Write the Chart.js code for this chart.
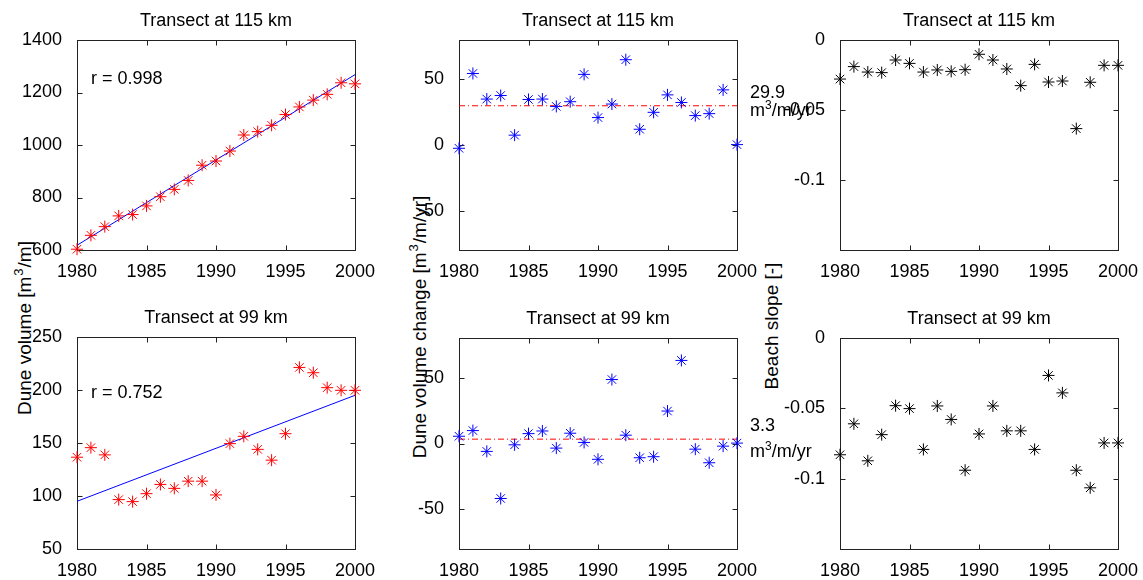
<!DOCTYPE html>
<html>
<head>
<meta charset="utf-8">
<script src="https://cdn.jsdelivr.net/npm/chart.js@4.4.0/dist/chart.umd.min.js"></script>
<style>
  html, body { margin:0; padding:0; background:#fff; overflow:hidden; width:1143px; height:580px; }
  canvas { position:absolute; }
  .ylab { position:absolute; font:19px 'Liberation Sans', Arial, sans-serif; line-height:19px; color:#000;
          white-space:nowrap; transform:translate(-50%,-50%) rotate(-90deg); }
  .sup { font-size:13px; position:relative; top:-8px; padding:0 1px; }
</style>
</head>
<body>
<div class="ylab" style="left:25px; top:328px">Dune volume [m<span class="sup">3</span>/m]</div>
<div class="ylab" style="left:420px; top:327px">Dune volume change [m<span class="sup">3</span>/m/yr]</div>
<div class="ylab" style="left:771px; top:326px">Beach slope [-]</div>
<script>
// ---------------- data ----------------
const years = [1980,1981,1982,1983,1984,1985,1986,1987,1988,1989,1990,1991,1992,1993,1994,1995,1996,1997,1998,1999,2000];
const xTicks = [1980,1985,1990,1995,2000];

const vol115 = [603,656,689,730,735,768,803,831,865,923,939,977,1038,1051,1075,1116,1145,1171,1193,1237,1233];
const trendYears = [1980,2000];
const vol115Trend = [618,1268];
const vol115Ticks = [600,800,1000,1200,1400];
const r115 = 'r = 0.998';

const dv115 = [-2.5,54.5,35,37.7,7.5,34.7,35,29.4,33,53.8,20.9,31.2,65,12,24.9,38.2,32.4,22.4,23.9,42,0.3];
const dv115Mean = 29.9;
const dvTicks = [-50,0,50];

const slope115 = [-0.0279,-0.019,-0.0229,-0.0233,-0.0143,-0.0167,-0.0229,-0.0214,-0.0224,-0.0212,-0.0102,-0.0143,-0.0207,-0.0326,-0.0174,-0.030,-0.0293,-0.0633,-0.0302,-0.0181,-0.0181];
const slopeTicks = [-0.1,-0.05,0];

const vol99 = [136.6,145.6,138.8,96.6,94.7,102.2,110.9,107.2,114,114,101,149.4,156.3,144,133.8,158.8,221.3,216.3,202.2,199.7,199.7];
const vol99Trend = [95,195];
const vol99Ticks = [50,100,150,200,250];
const r99 = 'r = 0.752';

const dv99 = [5.5,9.8,-6,-41.7,-1,7.5,9.5,-3.5,7.8,0.8,-12,48.5,6.3,-10.8,-10,24.6,63,-4.3,-14.6,-2,0.3];
const dv99Mean = 3.3;

const slope99 = [-0.083,-0.061,-0.0873,-0.0687,-0.0481,-0.0502,-0.0792,-0.0483,-0.0579,-0.094,-0.0682,-0.0483,-0.066,-0.066,-0.0792,-0.0266,-0.039,-0.094,-0.1065,-0.0746,-0.0746];

const title115 = 'Transect at 115 km';
const title99 = 'Transect at 99 km';
const unitMain = 'm', unitSup = '3', unitRest = '/m/yr';

// ---------------- helpers ----------------
const FONT = "'Liberation Sans', Arial, sans-serif";
Chart.defaults.font.family = FONT;
Chart.defaults.font.size = 18;
Chart.defaults.color = '#000';

const pts = (xs, ys) => xs.map((x, i) => ({x, y: ys[i]}));

function starSet(ys, color) {
  return { data: pts(years, ys), pointStyle: 'star', pointRadius: 6, pointHoverRadius: 6,
           borderColor: color, backgroundColor: color, pointBorderWidth: 1, borderWidth: 1,
           showLine: false, clip: false };
}
function lineSet(xs, ys, color, dash) {
  return { data: pts(xs, ys), showLine: true, pointRadius: 0, borderColor: color, borderWidth: 1,
           borderDash: dash || [], clip: false, fill: false };
}

function makePlugin(opt) {
  return {
    id: 'matlabLook',
    beforeDatasetsDraw(chart) {
      const {ctx, chartArea: a, scales: {x, y}} = chart;
      ctx.save();
      ctx.strokeStyle = '#222';
      ctx.lineWidth = 1;
      const L = Math.round(a.left) + 0.5, R = Math.round(a.right) + 0.5;
      const T = Math.round(a.top) + 0.5, B = Math.round(a.bottom) + 0.5;
      ctx.strokeRect(L, T, R - L, B - T);
      ctx.beginPath();
      x.ticks.forEach(t => {
        const p = Math.round(x.getPixelForValue(t.value)) + 0.5;
        ctx.moveTo(p, B); ctx.lineTo(p, B - 5);
        ctx.moveTo(p, T); ctx.lineTo(p, T + 5);
      });
      y.ticks.forEach(t => {
        const p = Math.round(y.getPixelForValue(t.value)) + 0.5;
        ctx.moveTo(L, p); ctx.lineTo(L + 5, p);
        ctx.moveTo(R, p); ctx.lineTo(R - 5, p);
      });
      ctx.stroke();
      ctx.restore();
    },
    afterDraw(chart) {
      const {ctx, chartArea: a, scales: {x, y}} = chart;
      ctx.save();
      ctx.fillStyle = '#000';
      ctx.font = '18px ' + FONT;
      ctx.textBaseline = 'alphabetic';
      ctx.textAlign = 'center';
      ctx.fillText(opt.title, (a.left + a.right) / 2, a.top - 14);
      ctx.textAlign = 'left';
      if (opt.r) {
        ctx.fillText(opt.r.text, x.getPixelForValue(opt.r.x), y.getPixelForValue(opt.r.y));
      }
      if (opt.mean !== undefined) {
        const py = y.getPixelForValue(opt.mean);
        const px = a.right + 13;
        ctx.fillText(opt.mean.toFixed(1), px, py + opt.off[0]);
        let cx = px;
        const b2 = py + opt.off[1];
        ctx.fillText(unitMain, cx, b2); cx += ctx.measureText(unitMain).width;
        ctx.font = '12px ' + FONT;
        ctx.fillText(unitSup, cx, b2 - 7); cx += ctx.measureText(unitSup).width;
        ctx.font = '18px ' + FONT;
        ctx.fillText(unitRest, cx, b2);
      }
      ctx.restore();
    }
  };
}

function makeChart(pos, datasets, yMin, yMax, yTicks, opt) {
  const YW = 70, TOP = 40, XH = 40;
  const c = document.createElement('canvas');
  const w = YW + pos.W + pos.rp, h = TOP + pos.H + XH;
  c.width = w; c.height = h;
  c.style.left = (pos.L - YW) + 'px';
  c.style.top = (pos.T - TOP) + 'px';
  c.style.width = w + 'px'; c.style.height = h + 'px';
  document.body.appendChild(c);
  new Chart(c, {
    type: 'scatter',
    data: { datasets },
    options: {
      responsive: false, animation: false, devicePixelRatio: 1,
      layout: { padding: { left: 0, top: TOP, right: pos.rp, bottom: 0 } },
      plugins: { legend: { display: false }, tooltip: { enabled: false }, title: { display: false } },
      events: [],
      scales: {
        x: {
          type: 'linear', min: 1980, max: 2000,
          grid: { display: false }, border: { display: false },
          afterBuildTicks: s => { s.ticks = xTicks.map(v => ({ value: v })); },
          afterFit: s => { s.height = XH; },
          ticks: { padding: 3, autoSkip: false, maxRotation: 0, callback: v => String(v) }
        },
        y: {
          type: 'linear', min: yMin, max: yMax,
          grid: { display: false }, border: { display: false },
          afterBuildTicks: s => { s.ticks = yTicks.map(v => ({ value: v })); },
          afterFit: s => { s.width = YW; },
          ticks: { padding: 7, autoSkip: false, callback: v => String(v) }
        }
      }
    },
    plugins: [makePlugin(opt)]
  });
}

// panel positions (plot areas)
const P = [
  { L: 77,  T: 40,  W: 278, H: 210, rp: 30 },
  { L: 459, T: 40,  W: 278, H: 210, rp: 85 },
  { L: 840, T: 40,  W: 278, H: 210, rp: 25 },
  { L: 77,  T: 337, W: 278, H: 212, rp: 30 },
  { L: 459, T: 338, W: 278, H: 211, rp: 85 },
  { L: 840, T: 338, W: 278, H: 211, rp: 25 }
];

makeChart(P[0], [starSet(vol115, '#ff0000'), lineSet(trendYears, vol115Trend, '#0000ff')],
  600, 1400, vol115Ticks, { title: title115, r: { text: r115, x: 1981, y: 1231 } });
makeChart(P[1], [starSet(dv115, '#0000ff'), lineSet(trendYears, [dv115Mean, dv115Mean], '#ff0000', [6,3,1,3])],
  -80, 80, dvTicks, { title: title115, mean: dv115Mean, off: [-8, 10.5] });
makeChart(P[2], [starSet(slope115, '#000000')],
  -0.15, 0, slopeTicks, { title: title115 });
makeChart(P[3], [starSet(vol99, '#ff0000'), lineSet(trendYears, vol99Trend, '#0000ff')],
  50, 250, vol99Ticks, { title: title99, r: { text: r99, x: 1981, y: 192 } });
makeChart(P[4], [starSet(dv99, '#0000ff'), lineSet(trendYears, [dv99Mean, dv99Mean], '#ff0000', [6,3,1,3])],
  -80, 80, dvTicks, { title: title99, mean: dv99Mean, off: [-8, 17.5] });
makeChart(P[5], [starSet(slope99, '#000000')],
  -0.15, 0, slopeTicks, { title: title99 });
</script>
</body>
</html>
